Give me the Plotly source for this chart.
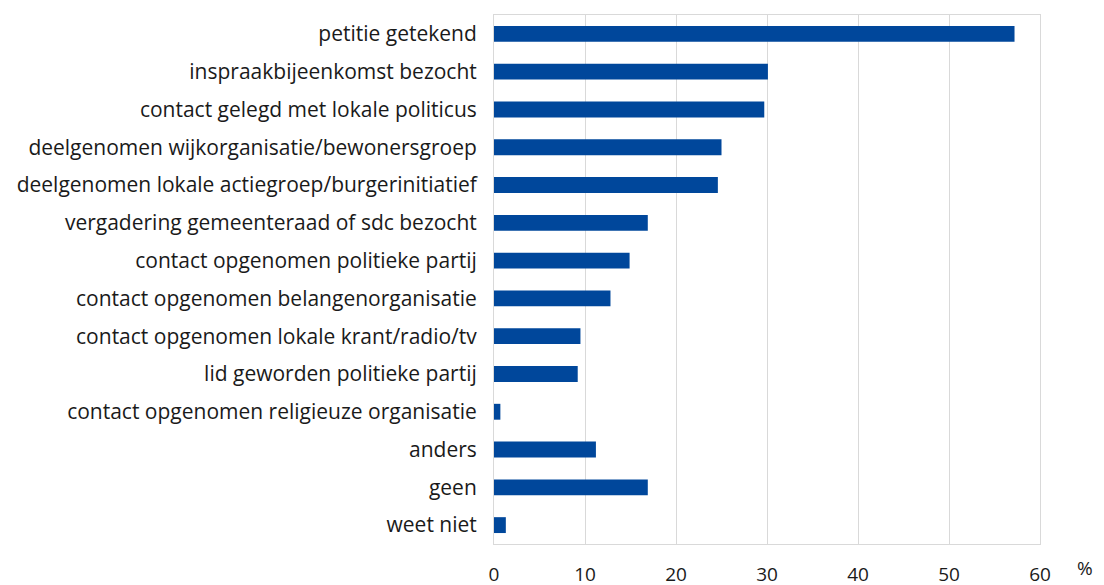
import plotly.graph_objects as go

categories = [
    "petitie getekend",
    "inspraakbijeenkomst bezocht",
    "contact gelegd met lokale politicus",
    "deelgenomen wijkorganisatie/bewonersgroep",
    "deelgenomen lokale actiegroep/burgerinitiatief",
    "vergadering gemeenteraad of sdc bezocht",
    "contact opgenomen politieke partij",
    "contact opgenomen belangenorganisatie",
    "contact opgenomen lokale krant/radio/tv",
    "lid geworden politieke partij",
    "contact opgenomen religieuze organisatie",
    "anders",
    "geen",
    "weet niet",
]
values = [57.2, 30.1, 29.7, 25.0, 24.6, 16.9, 14.9, 12.8, 9.5, 9.2, 0.7, 11.2, 16.9, 1.3]
tick_vals = [0, 10, 20, 30, 40, 50, 60]

fig = go.Figure(go.Bar(
    y=categories,
    x=values,
    orientation="h",
    marker=dict(color="#00479b", line=dict(width=0)),
    width=0.42,
))

font_family = "Open Sans, Noto Sans, sans-serif"
fig.update_layout(
    width=1104, height=585,
    margin=dict(l=486, r=72, t=6, b=46),
    plot_bgcolor="white", paper_bgcolor="white",
    showlegend=False,
    font=dict(family=font_family, size=21, color="#1a1a1a"),
)
fig.update_yaxes(
    autorange="reversed",
    categoryorder="array", categoryarray=categories,
    showgrid=False, ticks="", ticklabelstandoff=12,
    showline=True, linecolor="#d9d9d9", mirror=True,
    tickfont=dict(size=21, color="#1a1a1a"),
)
fig.update_xaxes(
    range=[0, 60], tickvals=tick_vals,
    showgrid=True, gridcolor="#d9d9d9", gridwidth=1,
    showline=True, linecolor="#d9d9d9", mirror=True,
    zeroline=False, ticks="", ticklabelstandoff=13,
    tickfont=dict(size=19, color="#1a1a1a"),
)
fig.add_annotation(
    text="%", xref="paper", yref="paper", x=1.082, y=-0.045,
    xanchor="center", yanchor="middle", showarrow=False,
    font=dict(size=19, color="#1a1a1a"),
)
fig.write_html("out.html")
